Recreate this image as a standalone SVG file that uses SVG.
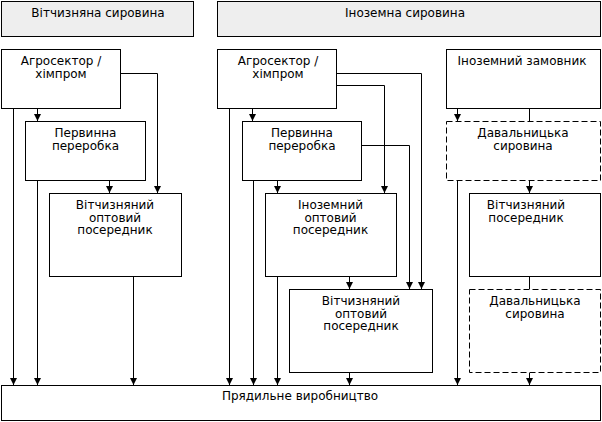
<svg xmlns="http://www.w3.org/2000/svg" width="602" height="422" viewBox="0 0 602 422">
<style>
.box{fill:#fff;stroke:#000;stroke-width:1}
.dash{fill:#fff;stroke:#000;stroke-width:1;stroke-dasharray:6,3}
.hdr{fill:#eeeeee;stroke:#000;stroke-width:1}
text{font-family:"DejaVu Sans","Noto Sans",sans-serif;font-size:12px;fill:#000;text-anchor:middle}
.c{fill:none;stroke:#000;stroke-width:1}
.a{fill:none;stroke:#000;stroke-width:1;marker-end:url(#ah)}
</style>
<defs>
<marker id="ah" markerWidth="9" markerHeight="9" refX="8" refY="4.5" orient="auto" markerUnits="userSpaceOnUse" viewBox="0 0 9 9">
<path d="M1,1 L1,8 L8,4.5 Z" fill="#000"/>
</marker>
</defs>
<rect width="602" height="422" fill="#fff"/>
<g id="connectors">
<!-- left -->
<path class="a" d="M13.5,109 V385"/>
<path class="a" d="M37.5,109 V121"/>
<path class="a" d="M37.5,181 V385"/>
<path class="a" d="M121,73.5 H157.5 V193"/>
<path class="a" d="M109.5,181 V193"/>
<path class="a" d="M133.5,277 V385"/>
<!-- middle -->
<path class="a" d="M229.5,109 V385"/>
<path class="a" d="M252.5,109 V121"/>
<path class="a" d="M337,73.5 H421.5 V289"/>
<path class="a" d="M337,85.5 H384.5 V193"/>
<path class="a" d="M362,145.5 H409.5 V289"/>
<path class="a" d="M253.5,181 V385"/>
<path class="a" d="M277.5,181 V193"/>
<path class="a" d="M277.5,277 V385"/>
<path class="a" d="M349.5,277 V289"/>
<path class="a" d="M349.5,373 V385"/>
<!-- right -->
<path class="a" d="M457.5,109 V121"/>
<path class="c" d="M529.5,109 V121"/>
<path class="a" d="M529.5,181 V193"/>
<path class="a" d="M457.5,181 V385"/>
<path class="c" d="M529.5,277 V289"/>
<path class="a" d="M529.5,373 V385"/>
</g>
<g id="hdr-domestic">
<rect class="hdr" x="1.5" y="1.5" width="192" height="35"/>
<text x="98" y="17">Вітчизняна сировина</text>
</g>
<g id="hdr-foreign">
<rect class="hdr" x="217.5" y="1.5" width="383" height="35"/>
<text x="405" y="17">Іноземна сировина</text>
</g>
<g id="agro-left">
<rect class="box" x="1.5" y="49.5" width="119" height="59"/>
<text x="61" y="65">Агросектор /</text>
<text x="61" y="77.5">хімпром</text>
</g>
<g id="proc-left">
<rect class="box" x="25.5" y="121.5" width="120" height="59"/>
<text x="85.5" y="137">Первинна</text>
<text x="85.5" y="149.5">переробка</text>
</g>
<g id="whs-left">
<rect class="box" x="49.5" y="193.5" width="132" height="83"/>
<text x="115" y="209">Вітчизняний</text>
<text x="115" y="221.5">оптовий</text>
<text x="115" y="234">посередник</text>
</g>
<g id="agro-mid">
<rect class="box" x="217.5" y="49.5" width="119" height="59"/>
<text x="278" y="65">Агросектор /</text>
<text x="278" y="77.5">хімпром</text>
</g>
<g id="proc-mid">
<rect class="box" x="242.5" y="121.5" width="119" height="59"/>
<text x="302" y="137">Первинна</text>
<text x="302" y="149.5">переробка</text>
</g>
<g id="whs-foreign">
<rect class="box" x="265.5" y="193.5" width="131" height="83"/>
<text x="330.5" y="209">Іноземний</text>
<text x="330.5" y="221.5">оптовий</text>
<text x="330.5" y="234">посередник</text>
</g>
<g id="whs-mid">
<rect class="box" x="289.5" y="289.5" width="143" height="83"/>
<text x="361" y="305">Вітчизняний</text>
<text x="361" y="317.5">оптовий</text>
<text x="361" y="330">посередник</text>
</g>
<g id="customer">
<rect class="box" x="446.5" y="49.5" width="154" height="59"/>
<text x="522" y="65">Іноземний замовник</text>
</g>
<g id="tolling1">
<rect class="dash" x="446.5" y="121.5" width="154" height="59"/>
<text x="523" y="137">Давальницька</text>
<text x="523" y="149.5">сировина</text>
</g>
<g id="dom-mid">
<rect class="box" x="469.5" y="193.5" width="131" height="83"/>
<text x="526" y="209">Вітчизняний</text>
<text x="526" y="221.5">посередник</text>
</g>
<g id="tolling2">
<rect class="dash" x="469.5" y="289.5" width="131" height="83"/>
<text x="535" y="305">Давальницька</text>
<text x="535" y="317.5">сировина</text>
</g>
<g id="spinning">
<rect class="box" x="1.5" y="385.5" width="599" height="35"/>
<text x="300" y="400">Прядильне виробництво</text>
</g>
</svg>
